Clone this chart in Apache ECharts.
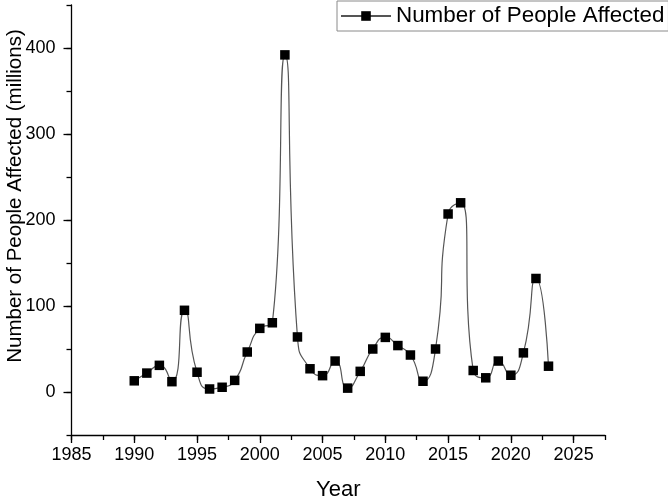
<!DOCTYPE html>
<html>
<head>
<meta charset="utf-8">
<script src="https://cdn.jsdelivr.net/npm/echarts@6/dist/echarts.min.js"></script>
<style>html,body{margin:0;padding:0;background:#fff}#c{width:668px;height:500px}</style>
</head>
<body>
<div id="c"></div>
<script>
var years = [1990,1991,1992,1993,1994,1995,1996,1997,1998,1999,2000,2001,2002,2003,2004,2005,2006,2007,2008,2009,2010,2011,2012,2013,2014,2015,2016,2017,2018,2019,2020,2021,2022,2023];
var affected = [13,22,31,12,95,23,3.5,5.5,13.5,46.5,74,80.5,392,64,27,19,36,4.5,24,50,63.5,54,43,12.5,50,207,220,25,16.5,36,19.5,45.5,132,30];
var xMajorTicks = [1985,1990,1995,2000,2005,2010,2015,2020,2025];
var yMajorTicks = [0,100,200,300,400];
var seriesName = 'Number of People Affected';

var font = 'Liberation Sans, Arial, sans-serif';
var chart = echarts.init(document.getElementById('c'), null, {renderer: 'canvas'});
var data = years.map(function (y, i) { return [y, affected[i]]; });

chart.setOption({
  animation: false,
  backgroundColor: '#fff',
  grid: {left: 71.5, right: 63, top: 5, bottom: 65, outerBoundsMode: 'none', containLabel: false},
  legend: {
    left: 337, top: 1,
    padding: [4, 4, 4, 3],
    borderColor: '#8a8a8a', borderWidth: 1,
    itemWidth: 50, itemHeight: 12, itemGap: 6,
    textStyle: {fontFamily: font, fontSize: 22.4, color: '#000'},
    data: [seriesName]
  },
  xAxis: [{
    type: 'value', min: 1985, max: 2027.5, interval: 2.5,
    name: 'Year', nameLocation: 'middle', nameGap: 44, nameMoveOverlap: false,
    nameTextStyle: {fontFamily: font, fontSize: 22, color: '#000'},
    axisLine: {show: true, onZero: false, lineStyle: {color: '#000', width: 1.3}},
    axisTick: {show: true, inside: false, length: 5, lineStyle: {color: '#000', width: 1.3}},
    axisLabel: {
      fontFamily: font, fontSize: 18, color: '#000', margin: 11,
      formatter: function (v) { return xMajorTicks.indexOf(v) >= 0 ? String(v) : ''; }
    },
    splitLine: {show: false}
  }, {
    type: 'value', min: 1985, max: 2027.5, position: 'bottom', offset: 0,
    axisLine: {show: false, onZero: false},
    axisTick: {show: true, length: 8, customValues: xMajorTicks, lineStyle: {color: '#000', width: 1.3}},
    axisLabel: {show: false},
    splitLine: {show: false}
  }],
  yAxis: [{
    type: 'value', min: -50, max: 450, interval: 50,
    name: 'Number of People Affected (millions)', nameLocation: 'middle', nameGap: 46, nameMoveOverlap: false,
    nameTextStyle: {fontFamily: font, fontSize: 20.5, color: '#000', padding: [0, 0, 0, 48]},
    axisLine: {show: true, onZero: false, lineStyle: {color: '#000', width: 1.3}},
    axisTick: {show: true, length: 5, lineStyle: {color: '#000', width: 1.3}},
    axisLabel: {
      fontFamily: font, fontSize: 18, color: '#000', margin: 16,
      formatter: function (v) { return yMajorTicks.indexOf(v) >= 0 ? String(v) : ''; }
    },
    splitLine: {show: false}
  }, {
    type: 'value', min: -50, max: 450, position: 'left', offset: 0,
    axisLine: {show: false, onZero: false},
    axisTick: {show: true, length: 8, customValues: yMajorTicks, lineStyle: {color: '#000', width: 1.3}},
    axisLabel: {show: false},
    splitLine: {show: false}
  }],
  series: [{
    name: seriesName,
    type: 'line',
    xAxisIndex: 0, yAxisIndex: 0,
    data: data,
    smooth: 0.6,
    symbol: 'rect',
    symbolSize: 9.5,
    itemStyle: {color: '#000'},
    lineStyle: {color: '#555', width: 1.2},
    emphasis: {disabled: true}
  }]
});
</script>
</body>
</html>
